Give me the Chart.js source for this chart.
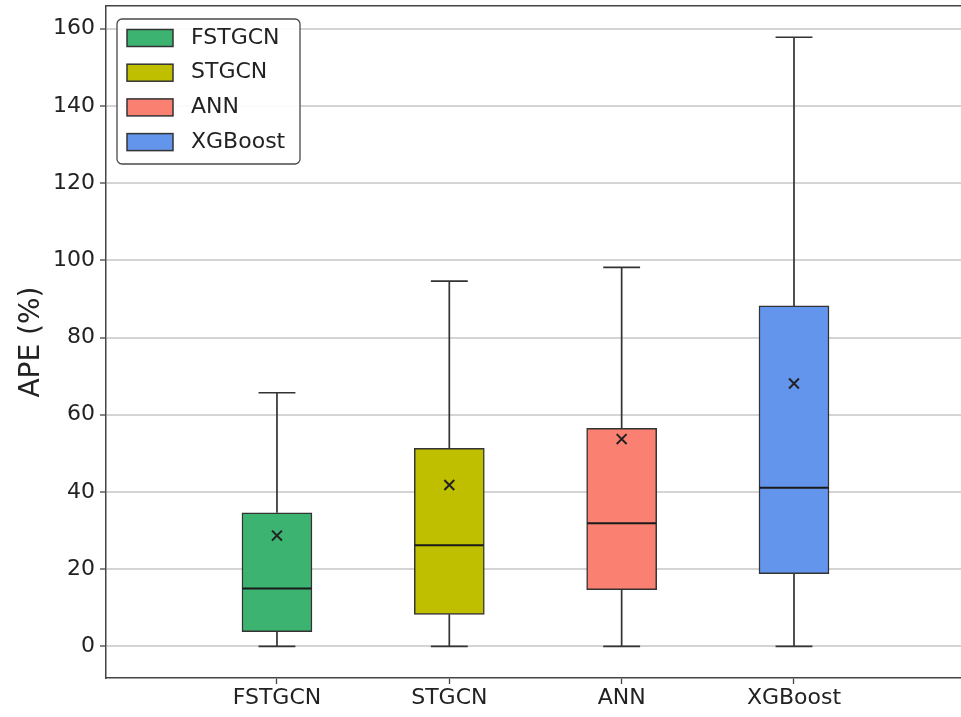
<!DOCTYPE html>
<html><head><meta charset="utf-8">
<script src="https://cdn.jsdelivr.net/npm/chart.js@4.4.0/dist/chart.umd.min.js"></script>
<style>html,body{margin:0;padding:0;background:#fff}canvas{display:block}</style>
</head><body>
<canvas id="c" width="961" height="717"></canvas>
<script>
const categories = ['FSTGCN', 'STGCN', 'ANN', 'XGBoost'];
const whiskerLow = [0, 0, 0, 0];
const q1 = [3.8, 8.3, 14.7, 18.8];
const median = [15.0, 26.2, 31.9, 41.1];
const q3 = [34.6, 51.3, 56.5, 88.2];
const whiskerHigh = [65.7, 94.6, 98.2, 157.8];
const means = [28.7, 41.8, 53.7, 68.1];
const yTicks = [0, 20, 40, 60, 80, 100, 120, 140, 160];
const boxColors = ['#3cb371', '#bfbf00', '#fa8072', '#6495ed'];

const FONT = 'DejaVu Sans';
const TXT = '#222';
const SPINE = '#444';
const X_MIN = 0.008, X_MAX = 4.969;
const CAP_HALF = 0.107, MED_HALF = 0.2;

const pos = categories.map((_, i) => i + 1);

const barSets = categories.map((c, i) => ({
  type: 'bar',
  label: c,
  data: [{ x: pos[i], y: [q1[i], q3[i]] }],
  backgroundColor: boxColors[i],
  borderColor: '#333',
  borderWidth: 1.5,
  borderSkipped: false,
  barThickness: 70,
  grouped: false,
  order: 2
}));

const whiskerData = [];
categories.forEach((c, i) => {
  const x = pos[i];
  whiskerData.push({ x, y: whiskerLow[i] }, { x, y: q1[i] }, { x, y: null });
  whiskerData.push({ x, y: q3[i] }, { x, y: whiskerHigh[i] }, { x, y: null });
  whiskerData.push({ x: x - CAP_HALF, y: whiskerLow[i] }, { x: x + CAP_HALF, y: whiskerLow[i] }, { x, y: null });
  whiskerData.push({ x: x - CAP_HALF, y: whiskerHigh[i] }, { x: x + CAP_HALF, y: whiskerHigh[i] }, { x, y: null });
});

const medianData = [];
categories.forEach((c, i) => {
  medianData.push({ x: pos[i] - MED_HALF, y: median[i] }, { x: pos[i] + MED_HALF, y: median[i] }, { x: pos[i], y: null });
});

const datasets = [
  ...barSets,
  { type: 'line', label: 'whiskers', data: whiskerData, borderColor: '#333', borderWidth: 1.7,
    pointRadius: 0, spanGaps: false, fill: false, order: 3 },
  { type: 'line', label: 'medians', data: medianData, borderColor: '#1a1a1a', borderWidth: 2,
    pointRadius: 0, spanGaps: false, fill: false, order: 1 },
  { type: 'scatter', label: 'means', data: categories.map((c, i) => ({ x: pos[i], y: means[i] })),
    pointStyle: 'crossRot', pointRadius: 7, borderColor: '#222', borderWidth: 2, order: 0 }
];

const boxLegend = {
  id: 'boxLegend',
  afterDatasetsDraw(chart) {
    const ctx = chart.ctx, ca = chart.chartArea;
    const x0 = ca.left + 11, y0 = ca.top + 13, w = 183, h = 145;
    ctx.save();
    ctx.beginPath();
    if (ctx.roundRect) ctx.roundRect(x0, y0, w, h, 5); else ctx.rect(x0, y0, w, h);
    ctx.fillStyle = 'rgba(255,255,255,0.9)';
    ctx.fill();
    ctx.lineWidth = 1.3;
    ctx.strokeStyle = '#4a4a4a';
    ctx.stroke();
    const items = chart.data.datasets.filter(d => d.type === 'bar');
    ctx.font = '22px "' + FONT + '"';
    ctx.textBaseline = 'middle';
    ctx.textAlign = 'left';
    items.forEach((d, i) => {
      const cy = y0 + 19 + i * 34.7;
      ctx.fillStyle = d.backgroundColor;
      ctx.fillRect(x0 + 10, cy - 8.5, 46, 17);
      ctx.lineWidth = 1.5;
      ctx.strokeStyle = '#333';
      ctx.strokeRect(x0 + 10, cy - 8.5, 46, 17);
      ctx.fillStyle = TXT;
      ctx.fillText(d.label, x0 + 74, cy);
    });
    ctx.restore();
  }
};

const noPadH = s => { s.paddingLeft = 0; s.paddingRight = 0; };
const noPadV = s => { s.paddingTop = 0; s.paddingBottom = 0; };

new Chart(document.getElementById('c'), {
  type: 'bar',
  data: { datasets },
  plugins: [boxLegend],
  options: {
    responsive: false,
    animation: false,
    devicePixelRatio: 1,
    layout: { padding: 0, autoPadding: false },
    plugins: { legend: { display: false }, tooltip: { enabled: false } },
    scales: {
      x: {
        type: 'linear', position: 'bottom', min: X_MIN, max: X_MAX, offset: false,
        afterBuildTicks: s => { s.ticks = pos.map(v => ({ value: v })); },
        afterFit: s => { s.height = 39; noPadH(s); },
        ticks: { callback: (v, i) => categories[i], font: { family: FONT, size: 22 }, color: TXT,
                 padding: 1, autoSkip: false, maxRotation: 0, minRotation: 0 },
        grid: { offset: false, drawOnChartArea: false, drawTicks: true, tickLength: 6, tickColor: SPINE, tickWidth: 1.3 },
        border: { color: SPINE, width: 1.5 }
      },
      x2: {
        type: 'linear', position: 'top', min: X_MIN, max: X_MAX, offset: false,
        afterFit: s => { s.height = 6; noPadH(s); },
        ticks: { display: false },
        grid: { offset: false, drawOnChartArea: false, drawTicks: false },
        border: { color: SPINE, width: 1.5 }
      },
      y: {
        type: 'linear', position: 'left', min: -8.2, max: 165.9,
        afterBuildTicks: s => { s.ticks = yTicks.map(v => ({ value: v })); },
        afterFit: s => { s.width = 106; noPadV(s); },
        ticks: { font: { family: FONT, size: 22 }, color: TXT, padding: 5 },
        grid: { color: '#d4d4d4', lineWidth: 2, drawTicks: true, tickLength: 6, tickColor: SPINE, tickWidth: 1.3 },
        border: { color: SPINE, width: 1.5 },
        title: { display: true, text: 'APE (%)', font: { family: FONT, size: 28 }, color: TXT, padding: { top: 15, bottom: 0 } }
      }
    }
  }
});
</script>
</body></html>
